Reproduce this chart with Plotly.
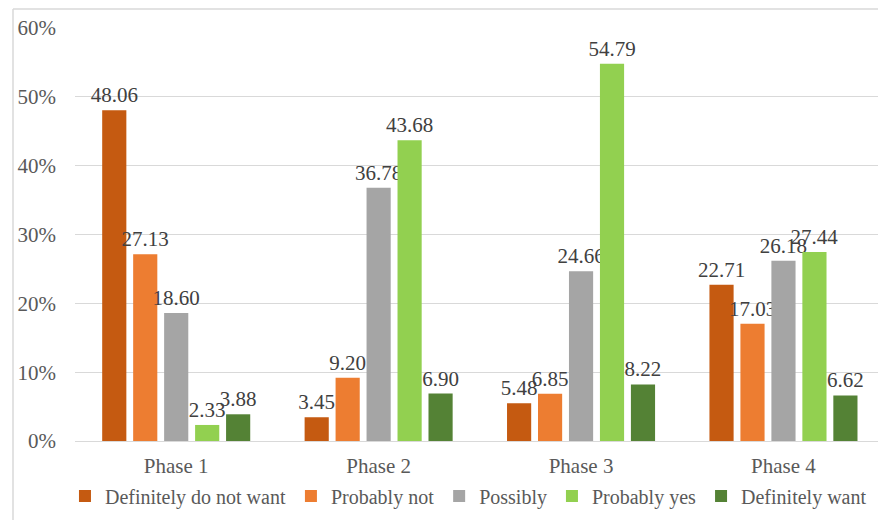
import plotly.graph_objects as go

phases = ["Phase 1", "Phase 2", "Phase 3", "Phase 4"]
series_names = ["Definitely do not want", "Probably not", "Possibly",
                "Probably yes", "Definitely want"]
definitely_not = [48.06, 3.45, 5.48, 22.71]
probably_not = [27.13, 9.20, 6.85, 17.03]
possibly = [18.60, 36.78, 24.66, 26.18]
probably_yes = [2.33, 43.68, 54.79, 27.44]
definitely_want = [3.88, 6.90, 8.22, 6.62]
y_ticks = [0, 10, 20, 30, 40, 50, 60]
y_tick_labels = ["0%", "10%", "20%", "30%", "40%", "50%", "60%"]

series_values = [definitely_not, probably_not, possibly, probably_yes, definitely_want]
colors = ["#C55A11", "#ED7D31", "#A5A5A5", "#92D050", "#548235"]

FONT = "Times New Roman"
SIZE = 21

fig = go.Figure()
for name, vals, col in zip(series_names, series_values, colors):
    fig.add_trace(go.Bar(
        x=phases, y=vals, name=name,
        marker=dict(color=col, line=dict(width=0)),
        text=vals, texttemplate="%{y:.2f}", textposition="outside",
        textfont=dict(family=FONT, size=SIZE, color="#404040"),
        constraintext="none", cliponaxis=False,
    ))

fig.update_layout(
    width=878, height=520,
    margin=dict(l=75, r=0, t=28, b=79),
    paper_bgcolor="white", plot_bgcolor="white",
    barmode="group", bargap=0.235, bargroupgap=0.22,
    font=dict(family=FONT, size=SIZE, color="#595959"),
    showlegend=True,
    legend=dict(orientation="h", x=0.49, xanchor="center", y=-0.133,
                yanchor="middle", font=dict(family=FONT, size=20, color="#595959"),
                traceorder="normal", itemclick=False),
    xaxis=dict(range=[-0.5, 3.467], showgrid=False, showline=True,
               linecolor="#D9D9D9", linewidth=1, ticks="",
               tickfont=dict(family=FONT, size=SIZE, color="#595959"),
               ticklabelstandoff=6),
    yaxis=dict(range=[0, 60], tickmode="array", tickvals=y_ticks,
               ticktext=y_tick_labels,
               showgrid=True, gridcolor="#D9D9D9", gridwidth=1,
               zeroline=False, showline=False, ticks="",
               tickfont=dict(family=FONT, size=SIZE, color="#595959"),
               ticklabelstandoff=18),
    shapes=[
        dict(type="line", xref="paper", yref="paper",
             x0=(13 - 75) / 803, x1=1.02, y0=(441 - 9) / 413, y1=(441 - 9) / 413,
             line=dict(color="#D9D9D9", width=1.5)),
        dict(type="line", xref="paper", yref="paper",
             x0=(13 - 75) / 803, x1=(13 - 75) / 803, y0=(441 - 9) / 413, y1=-0.25,
             line=dict(color="#D9D9D9", width=1.5)),
    ],
)

fig.write_html("out.html")
